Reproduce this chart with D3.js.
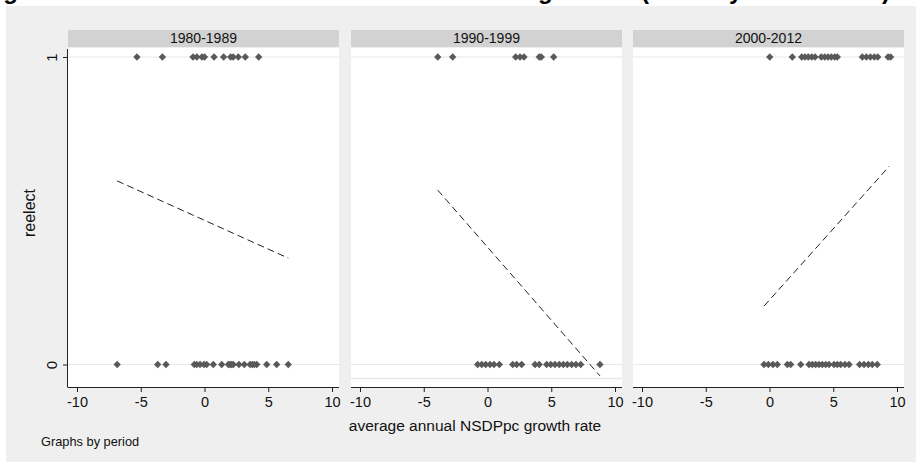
<!DOCTYPE html>
<html lang="en">
<head>
<meta charset="utf-8">
<title>reelect by period</title>
<script src="https://d3js.org/d3.v7.min.js"></script>
<style>
  body { margin: 0; background: #fff; }
  svg { display: block; font-family: Arial, "Liberation Sans", sans-serif; }
  .tick text { fill: #111; }
</style>
</head>
<body>
<svg id="chart" width="916" height="462"></svg>
<script>
// periods (one panel each)
var periods = ["1980-1989", "1990-1999", "2000-2012"];

// growth rate of the reelected (reelect = 1), per period
var growthReelected = [
  [-5.3, -3.3, -0.9, -0.6, -0.2, 0.0, 0.75, 1.5, 2.05, 2.25, 2.65, 3.2, 4.25],
  [-3.9, -2.73, 2.21, 2.55, 2.86, 4.06, 4.22, 5.19],
  [0.02, 1.79, 2.53, 2.78, 3.04, 3.31, 3.57, 4.06, 4.33, 4.59, 4.85, 5.11, 5.32,
   7.28, 7.59, 7.91, 8.22, 8.49, 9.3, 9.5]
];

// growth rate of the not reelected (reelect = 0), per period
var growthNotReelected = [
  [-6.85, -3.67, -3.02, -0.8, -0.61, -0.35, -0.04, 0.17, 0.69, 1.35, 1.87, 2.0,
   2.13, 2.26, 2.7, 3.12, 3.57, 3.75, 3.91, 4.1, 4.88, 5.66, 6.57],
  [-0.77, -0.45, -0.14, 0.2, 0.51, 0.93, 1.98, 2.29, 2.68, 3.73, 4.06, 4.64,
   4.96, 5.29, 5.63, 5.95, 6.26, 6.6, 6.94, 7.31, 8.82],
  [-0.43, -0.09, 0.27, 0.61, 1.4, 1.66, 2.45, 3.1, 3.36, 3.62, 3.88, 4.14, 4.41,
   4.67, 5.06, 5.32, 5.58, 5.92, 6.24, 7.07, 7.41, 7.75, 8.06, 8.45]
];

// fitted line ends (growth, fitted reelect)
var fitStartX = [-6.85, -3.9, -0.43];
var fitStartY = [0.597, 0.567, 0.19];
var fitEndX = [6.57, 8.82, 9.4];
var fitEndY = [0.346, -0.037, 0.645];

var xTicks = [-10, -5, 0, 5, 10];
var yTicks = [0, 1];

var svg = d3.select("#chart");

// grey page, white strip at the very top holds the clipped title
svg.append("rect").attr("x", 6).attr("y", 6).attr("width", 910).attr("height", 456)
  .attr("fill", "#efefef");

var title = svg.append("text")
  .attr("y", -1)
  .attr("font-size", 24)
  .attr("font-weight", "bold")
  .attr("fill", "#000");
title.append("tspan").attr("x", -18).text("Figure 5: Reelection and the economic");
title.append("tspan").attr("x", 538).text("growth");
title.append("tspan").attr("x", 641).text("(fitted by state");
title.append("tspan").attr("x", 882).text(")");

var panelLeft = [68, 351, 633],
    panelW = 271,
    stripTop = 30, stripBottom = 47,
    plotBottom = 387;

var y = d3.scaleLinear().domain([0, 1]).range([364.5, 57]);

periods.forEach(function(p, i) {
  var x0 = panelLeft[i];
  var x = d3.scaleLinear().domain([-10, 10]).range([x0 + 9, x0 + 264]);
  var g = svg.append("g");

  g.append("rect").attr("x", x0).attr("y", stripTop).attr("width", panelW)
    .attr("height", stripBottom - stripTop).attr("fill", "#d2d2d2");
  g.append("text").attr("x", x0 + panelW / 2).attr("y", stripTop + 12.5)
    .attr("text-anchor", "middle").attr("font-size", 14).attr("fill", "#111").text(p);

  g.append("rect").attr("x", x0).attr("y", stripBottom + 1).attr("width", panelW)
    .attr("height", plotBottom - stripBottom - 1).attr("fill", "#fff");

  // gridlines
  g.selectAll(".grid").data(yTicks).enter().append("line")
    .attr("x1", x0).attr("x2", x0 + panelW)
    .attr("y1", function(d) { return y(d); }).attr("y2", function(d) { return y(d); })
    .attr("stroke", "#e8e8e8").attr("stroke-width", 1.2);

  if (i == 1) {
    g.append("line").attr("x1", x0).attr("x2", x0 + panelW)
      .attr("y1", 378.5).attr("y2", 378.5).attr("stroke", "#e8e8e8").attr("stroke-width", 1.5);
  }

  // square turned 45deg gives an even diamond like the stata marker
  var sym = d3.symbol().type(d3.symbolSquare).size(27);
  g.selectAll(".p1").data(growthReelected[i]).enter().append("path")
    .attr("d", sym).attr("fill", "#595959")
    .attr("transform", function(d) { return "translate(" + x(d) + "," + y(1) + ") rotate(45)"; });
  g.selectAll(".p0").data(growthNotReelected[i]).enter().append("path")
    .attr("d", sym).attr("fill", "#595959")
    .attr("transform", function(d) { return "translate(" + x(d) + "," + y(0) + ") rotate(45)"; });

  g.append("line")
    .attr("x1", x(fitStartX[i])).attr("y1", y(fitStartY[i]))
    .attr("x2", x(fitEndX[i])).attr("y2", y(fitEndY[i]))
    .attr("stroke", "#222").attr("stroke-width", 1).attr("stroke-dasharray", "7,4");

  var ax = g.append("g").attr("transform", "translate(0," + plotBottom + ")")
    .call(d3.axisBottom(x).tickValues(xTicks).tickSize(5).tickPadding(5)
      .tickFormat(d3.format("d")));
  ax.select(".domain").attr("d", "M" + x0 + ",0.5H" + (x0 + panelW)).attr("stroke", "#222");
  ax.selectAll(".tick line").attr("stroke", "#222");
  ax.selectAll(".tick text").attr("font-size", 14.5).attr("font-family", "Arial, 'Liberation Sans', sans-serif");
  ax.selectAll(".tick text").text(function(d) { return d < 0 ? "-" + Math.abs(d) : d; });

  if (i == 0) {
    var ay = g.append("g").attr("transform", "translate(" + x0 + ",0)")
      .call(d3.axisLeft(y).tickValues(yTicks).tickSize(5).tickFormat(d3.format("d")));
    ay.select(".domain").attr("d", "M-0.5,49V" + (plotBottom + 0.5)).attr("stroke", "#222");
    ay.selectAll(".tick line").attr("stroke", "#222");
    ay.selectAll(".tick text").attr("font-size", 15)
      .attr("font-family", "Arial, 'Liberation Sans', sans-serif")
      .attr("x", 0).attr("y", 0).attr("dy", null)
      .attr("text-anchor", "middle")
      .attr("transform", "translate(-11,0) rotate(-90)");
  }
});

svg.append("text").attr("transform", "translate(35,213) rotate(-90)")
  .attr("text-anchor", "middle").attr("font-size", 16).attr("fill", "#111").text("reelect");

svg.append("text").attr("x", 475).attr("y", 431)
  .attr("text-anchor", "middle").attr("font-size", 15.5).attr("fill", "#111")
  .text("average annual NSDPpc growth rate");

svg.append("text").attr("x", 41).attr("y", 446)
  .attr("font-size", 12.8).attr("fill", "#111").text("Graphs by period");
</script>
</body>
</html>
